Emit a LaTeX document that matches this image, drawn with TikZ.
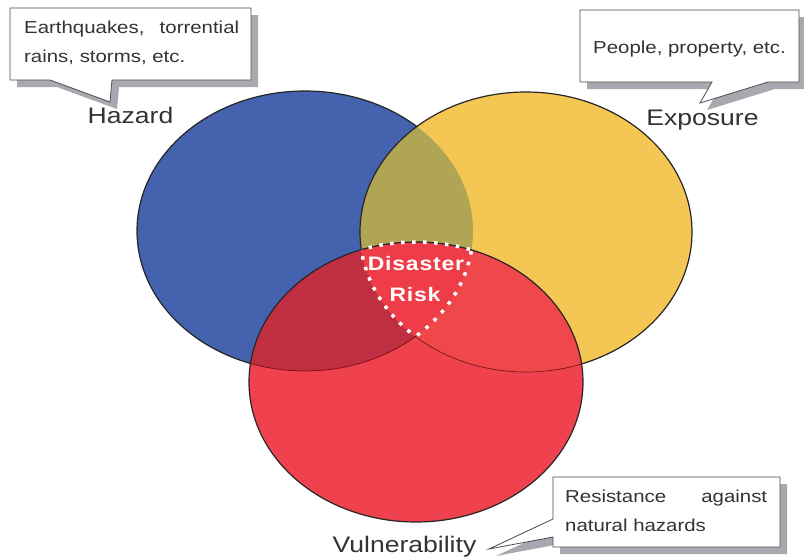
\documentclass[tikz,border=0pt]{standalone}
\usepackage{fontspec}
\setmainfont{Liberation Sans}[FakeStretch=1.18]
\newfontfamily\drfont{Liberation Sans}[FakeStretch=1.18,LetterSpace=4]
\definecolor{cblue}{HTML}{4462AE}
\definecolor{cyellow}{HTML}{F4C654}
\definecolor{colive}{HTML}{B0A455}
\definecolor{cred}{HTML}{F0424E}
\definecolor{corange}{HTML}{F0474A}
\definecolor{cdark}{HTML}{C02E42}
\definecolor{ctriple}{HTML}{EE3C48}
\definecolor{cshade}{HTML}{A8A8B0}
\definecolor{ctxt}{HTML}{333333}
\begin{document}
\begin{tikzpicture}[x=1pt,y=-1pt,
  outl/.style={draw=black!85,line width=1.2pt},
  faint/.style={draw=black!70!red,line width=0.7pt,opacity=0.7},
  callout/.style={draw=black!70,line width=0.8pt,fill=white,line join=miter},
  cshadow/.style={fill=cshade,draw=none},
  ctext/.style={font=\fontsize{17.3}{20}\selectfont,text=ctxt,inner sep=0pt},
  lbl/.style={font=\fontsize{22.5}{26}\selectfont,text=ctxt,inner sep=0pt,anchor=base},
  drtext/.style={font={\drfont\bfseries\fontsize{19.5}{22}\selectfont},text=white,inner sep=0pt,anchor=base},
  dots/.style={draw=white,line width=3.5pt,dash pattern=on 3.5pt off 7.5pt},
  ]
\useasboundingbox (0,0) rectangle (804,558);
\fill[white] (0,0) rectangle (804,558);
\def\pB{(305,231) ellipse [x radius=168pt, y radius=140pt]}
\def\pY{(526,232) ellipse [x radius=166pt, y radius=140pt]}
\def\pR{(416,382) ellipse [x radius=167pt, y radius=140pt]}
% hazard circle
\fill[cblue] \pB;
\draw[outl] \pB;
% exposure circle
\fill[cyellow] \pY;
\begin{scope}
  \clip \pB;
  \fill[colive] \pY;
\end{scope}
\draw[outl] \pY;
% vulnerability circle
\fill[cred] \pR;
\begin{scope}
  \clip \pR; \clip \pB;
  \fill[cdark] \pB;
\end{scope}
\begin{scope}
  \clip \pR; \clip \pY;
  \fill[corange] \pY;
\end{scope}
\begin{scope}
  \clip \pR; \clip \pB; \clip \pY;
  \fill[ctriple] \pR;
\end{scope}
\begin{scope}
  \clip \pR; \clip (0,336) rectangle (804,558);
  \draw[faint] \pB;
  \draw[faint] \pY;
\end{scope}
\draw[outl] \pR;
% dotted border of the disaster risk region
\begin{scope}
  \clip \pR; \clip \pB;
  \draw[dots] \pY;
\end{scope}
\begin{scope}
  \clip \pR; \clip \pY;
  \draw[dots] \pB;
\end{scope}
\begin{scope}
  \clip \pB; \clip \pY;
  \draw[dots] \pR;
\end{scope}
\node[drtext] (dis) at (416,270) {Disaster};
\node[drtext] (risk) at (415,301) {Risk};
% labels
\node[lbl] (hazard) at (130.5,123) {Hazard};
\node[lbl] (exposure) at (702.5,125) {Exposure};
\node[lbl] (vuln) at (404.5,552) {Vulnerability};
% callouts
\def\cA{(10,8) -- (251,8) -- (251,80) -- (112,80) -- (110,102) -- (50,80) -- (10,80) -- cycle}
\def\cB{(580,10) -- (799,10) -- (799,82) -- (768,82) -- (700,103) -- (712,82) -- (580,82) -- cycle}
\def\cC{(553,477) -- (780,477) -- (780,547) -- (553,547) -- (553,537) -- (489,549) -- (553,519) -- cycle}
\fill[cshadow,shift={(7,7)}] \cA;
\fill[cshadow,shift={(7,7)}] \cB;
\fill[cshadow,shift={(7,7)}] \cC;
\path[callout] \cA;
\path[callout] \cB;
\path[callout] \cC;
\node[ctext,anchor=base west] (c1a) at (24,33) {\makebox[215pt][s]{Earthquakes, torrential}};
\node[ctext,anchor=base west] (c1b) at (24,62) {rains, storms, etc.};
\node[ctext,anchor=base] (c2) at (689.5,53) {People, property, etc.};
\node[ctext,anchor=base west] (c3a) at (565,502) {\makebox[202pt][s]{Resistance against}};
\node[ctext,anchor=base west] (c3b) at (565,531) {natural hazards};
\end{tikzpicture}
\end{document}
